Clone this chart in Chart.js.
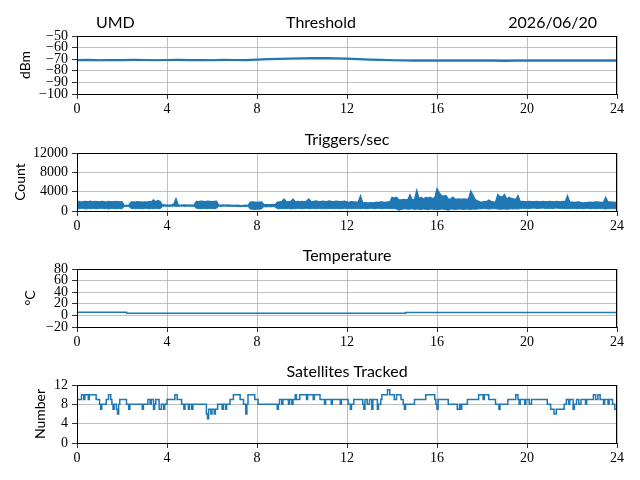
<!DOCTYPE html>
<html>
<head>
<meta charset="utf-8">
<script src="https://cdn.jsdelivr.net/npm/chart.js@4/dist/chart.umd.min.js"></script>
<style>
  html, body { margin: 0; padding: 0; background: #fff; }
  #wrap { position: relative; width: 640px; height: 480px; overflow: hidden; }
  canvas { position: absolute; left: 0; }
</style>
</head>
<body>
<div id="wrap">
  <canvas id="c1" width="640" height="116" style="top:0px"></canvas>
  <canvas id="c2" width="640" height="116" style="top:117px"></canvas>
  <canvas id="c3" width="640" height="116" style="top:233px"></canvas>
  <canvas id="c4" width="640" height="131" style="top:349px"></canvas>
</div>
<script>
// header texts
var siteName = 'UMD';
var dateText = '2026/06/20';
var hourTicks = [0, 4, 8, 12, 16, 20, 24];

// threshold (dBm), one reading every half hour
var thresholdStep = 0.5;
var thresholdDbm = [
  -70.8, -70.6, -70.9, -70.7, -70.8, -70.6, -70.7, -70.9, -70.7, -70.6, -70.8, -70.7, -70.9, -70.6, -70.7, -70.8,
  -70.3, -70.0, -69.7, -69.4, -69.2, -69.0, -69.1, -69.2, -69.5,
  -70.0, -70.4, -70.6, -70.9, -71.1, -71.2, -71.3, -71.2, -71.3, -71.2, -71.3, -71.2,
  -71.3, -71.5, -71.2, -71.2, -71.3, -71.2, -71.2, -71.3, -71.2, -71.2, -71.3, -71.2
];

// triggers per second: highest and lowest reading in each 0.1 h bin (one row per hour)
var triggerStep = 0.1;
var triggerMax = [
  1900, 2000, 1850, 1950, 2000, 1900, 2050, 1900, 2000, 1950,
  1900, 2000, 1950, 1850, 2000, 1950, 1900, 2000, 1950, 1900,
  1950, 1200, 1150, 1200, 1850, 1900, 1850, 1950, 1900, 1850,
  1900, 1850, 1950, 1900, 2300, 1900, 2200, 1950, 1250, 1250,
  1250, 1200, 1250, 1450, 2600, 1250, 1200, 1250, 1250, 1200,
  1250, 1200, 1250, 2000, 1950, 2050, 2000, 1950, 2050, 2000,
  1950, 2000, 2050, 1250, 1200, 1250, 1200, 1250, 1200, 1200,
  1150, 1200, 1150, 1100, 1150, 1200, 1150, 1850, 1900, 1850,
  1800, 1850, 1900, 1400, 1350, 1300, 1350, 1400, 1300, 1850,
  1900, 2000, 2500, 1950, 1900, 2000, 2500, 1900, 2000, 1950,
  2000, 1900, 2050, 2500, 2000, 1950, 2100, 2000, 1900, 2050,
  2000, 1950, 2100, 2000, 1900, 2050, 2000, 1950, 2000, 2050,
  1900, 1850, 1950, 1900, 1850, 1900, 3200, 1700, 1750, 1700,
  1700, 1750, 1700, 1850, 1800, 1900, 1850, 1800, 1900, 1850,
  2850, 2700, 2850, 2350, 2300, 2400, 2350, 2350, 3400, 2350,
  2400, 4300, 2600, 2850, 2500, 2800, 2700, 2850, 2600, 2750,
  4650, 3800, 3200, 3100, 3200, 2500, 2450, 2900, 2500, 2450,
  2500, 2400, 2500, 2450, 2500, 4150, 3300, 2350, 2100, 1900,
  1850, 2000, 1900, 2300, 2000, 1900, 1850, 3450, 3000, 2900,
  3450, 2500, 2850, 2600, 2500, 2350, 3200, 1950, 2000, 1950,
  1900, 2000, 1950, 1900, 2000, 1950, 1900, 2000, 1950, 1900,
  2000, 1950, 1900, 2000, 1950, 1900, 2000, 1950, 3200, 1850,
  1850, 1800, 1850, 1900, 1750, 1700, 1750, 1800, 1850, 1800,
  1850, 1900, 1850, 1800, 1850, 2850, 1850, 1900, 1850, 1800,
  1850
];
var triggerMin = [
  500, 450, 550, 500, 400, 500, 450, 550, 500, 450,
  500, 550, 450, 500, 400, 500, 550, 450, 500, 500,
  450, 950, 950, 950, 550, 500, 450, 550, 500, 450,
  500, 550, 450, 500, 450, 550, 500, 450, 950, 1000,
  1000, 950, 1000, 1000, 1000, 950, 1000, 1000, 950, 1000,
  1000, 950, 1000, 550, 500, 450, 550, 500, 450, 550,
  500, 450, 550, 1000, 950, 1000, 1000, 950, 1000, 950,
  950, 950, 900, 900, 950, 900, 950, 400, 350, 300,
  400, 350, 400, 900, 850, 900, 850, 900, 850, 500,
  450, 500, 550, 450, 500, 400, 500, 450, 550, 500,
  450, 500, 550, 450, 500, 550, 450, 500, 550, 450,
  500, 450, 550, 500, 450, 500, 550, 450, 500, 550,
  500, 550, 450, 500, 550, 500, 450, 550, 500, 450,
  500, 550, 450, 500, 550, 450, 500, 550, 450, 500,
  450, 500, 400, 150, 300, 400, 450, 350, 400, 450,
  300, 400, 350, 300, 400, 350, 300, 400, 350, 300,
  350, 300, 400, 350, 300, 150, 350, 400, 300, 350,
  400, 350, 300, 400, 350, 300, 400, 350, 400, 450,
  450, 500, 450, 400, 450, 500, 450, 400, 350, 400,
  400, 350, 400, 450, 400, 450, 400, 500, 550, 500,
  550, 500, 550, 600, 550, 500, 550, 600, 550, 500,
  550, 500, 550, 600, 550, 500, 550, 500, 450, 500,
  500, 550, 450, 500, 550, 450, 500, 550, 450, 500,
  500, 450, 550, 500, 450, 400, 500, 450, 500, 450,
  500
];

// temperature (degC) at its change points
var tempHours = [0, 2.2, 2.2, 14.6, 14.6, 24];
var tempValues = [5.4, 5.4, 3.5, 3.5, 5.2, 5.2];

// satellites tracked, value holds from each hour until the next one
var satHours = [
  0.0, 0.2, 0.3, 0.35, 0.5, 0.55, 0.85, 1.0, 1.05, 1.1, 1.3, 1.4, 1.5, 1.55, 1.6, 1.65, 1.75, 1.8, 1.85, 1.9,
  2.2, 2.3, 2.35, 2.9, 2.95, 3.15, 3.25, 3.3, 3.4, 3.45, 3.5, 3.65, 3.75, 3.85, 3.9, 4.0, 4.35, 4.45, 4.65, 4.75,
  4.8, 4.95, 5.0, 5.1, 5.15, 5.75, 5.8, 5.85, 5.95, 6.0, 6.1, 6.15, 6.25, 6.45, 6.5, 6.6, 6.65, 6.8, 6.95, 7.25,
  7.4, 7.5, 7.55, 7.6, 7.9, 8.05, 8.9, 8.95, 9.0, 9.1, 9.15, 9.4, 9.45, 9.55, 9.6, 9.7, 9.75, 9.9, 10.2, 10.25,
  10.5, 10.55, 10.8, 11.0, 11.05, 11.3, 11.35, 11.7, 11.75, 12.05, 12.15, 12.2, 12.3, 12.7, 12.75, 12.8, 12.9, 13.0, 13.1, 13.15,
  13.35, 13.4, 13.5, 13.55, 13.8, 13.9, 14.1, 14.2, 14.4, 14.5, 14.55, 14.6, 15.0, 15.5, 15.9, 15.95, 16.0, 16.05, 16.5, 16.9,
  17.0, 17.05, 17.1, 17.35, 17.85, 18.05, 18.1, 18.3, 18.6, 18.75, 18.8, 19.15, 19.5, 19.6, 19.65, 19.7, 19.9, 19.95, 20.1, 20.2,
  20.9, 21.05, 21.2, 21.3, 21.65, 21.75, 21.85, 21.9, 22.05, 22.1, 22.2, 22.3, 22.4, 22.6, 22.65, 22.95, 23.05, 23.15, 23.25, 23.4,
  23.45, 23.6, 23.65, 23.8, 23.9, 24.0
];
var satCounts = [
  9, 10, 9, 10, 9, 10, 9, 8, 7, 8, 9, 10, 9, 8, 7, 8, 7, 6, 8, 9,
  8, 7, 8, 7, 8, 9, 8, 9, 7, 8, 9, 7, 8, 7, 8, 9, 10, 9, 8, 7,
  8, 7, 8, 7, 8, 6, 5, 7, 6, 7, 6, 7, 8, 7, 8, 7, 8, 9, 10, 9,
  8, 6, 8, 10, 9, 8, 7, 8, 9, 8, 9, 8, 9, 8, 9, 10, 9, 10, 9, 10,
  9, 10, 9, 8, 9, 8, 9, 8, 9, 8, 7, 8, 9, 8, 7, 9, 8, 9, 7, 9,
  7, 8, 9, 10, 11, 10, 9, 10, 9, 8, 7, 8, 9, 10, 9, 8, 7, 9, 8, 7,
  8, 7, 8, 9, 10, 9, 10, 9, 8, 7, 8, 9, 10, 9, 8, 9, 8, 9, 8, 9,
  8, 7, 6, 7, 8, 9, 8, 9, 7, 8, 9, 8, 9, 8, 9, 10, 9, 10, 9, 8,
  9, 8, 9, 8, 7, 7
];

var lineColor = '#1f77b4';
var tickFont = { family: '"Liberation Serif", serif', size: 14 };
var labelFont = { family: 'Lato, sans-serif', size: 14 };
var titleFont = { family: 'Lato, sans-serif', size: 16, weight: 'normal' };

Chart.defaults.color = '#000';

function stepped(step, values) {
  return values.map(function(v, i) { return { x: i * step, y: v }; });
}
function paired(xs, ys) {
  return xs.map(function(x, i) { return { x: x, y: ys[i] }; });
}
function minusSign(v) {
  return String(v).replace('-', '\u2212');
}
function lineSet(data, extra) {
  var ds = { data: data, borderColor: lineColor, borderWidth: 1.5, pointRadius: 0, tension: 0, fill: false };
  for (var k in (extra || {})) ds[k] = extra[k];
  return ds;
}

// black box round the plot area
var frame = {
  id: 'frame',
  afterDraw: function(chart) {
    var a = chart.chartArea, c = chart.ctx;
    c.save();
    c.strokeStyle = '#000';
    c.lineWidth = 1;
    c.strokeRect(Math.round(a.left) + 0.5, Math.round(a.top) + 0.5,
      Math.round(a.right - a.left) - 1, Math.round(a.bottom - a.top));
    c.restore();
  }
};

// left / centre / right header line on the top plot
var header = {
  id: 'header',
  afterDraw: function(chart, args, opts) {
    if (!opts.center) return;
    var c = chart.ctx;
    c.save();
    c.font = titleFont.size + 'px ' + titleFont.family;
    c.fillStyle = '#000';
    c.textBaseline = 'middle';
    c.textAlign = 'left';
    c.fillText(opts.left, 96, 22.5);
    c.textAlign = 'center';
    c.fillText(opts.center, 321, 22.5);
    c.textAlign = 'right';
    c.fillText(opts.right, 597, 22.5);
    c.restore();
  }
};

function makeChart(id, cfg) {
  var ctx = document.getElementById(id).getContext('2d');
  return new Chart(ctx, {
    type: 'line',
    data: { datasets: cfg.datasets },
    options: {
      responsive: false,
      animation: false,
      layout: { padding: { left: 0, right: 23, top: cfg.header ? 36 : 0, bottom: cfg.padBottom || 0 } },
      plugins: {
        legend: { display: false },
        tooltip: { enabled: false },
        title: {
          display: !cfg.header,
          text: cfg.title,
          fullSize: false,
          font: titleFont,
          color: '#000',
          padding: { top: 13, bottom: 3.8 }
        },
        header: cfg.header || {}
      },
      scales: {
        x: {
          type: 'linear',
          min: 0,
          max: 24,
          afterFit: function(s) { s.height = 22; },
          afterBuildTicks: function(s) { s.ticks = hourTicks.map(function(v) { return { value: v }; }); },
          ticks: { font: tickFont, padding: 2, autoSkip: false, maxRotation: 0 },
          grid: { color: '#b0b0b0', lineWidth: 0.8, tickColor: '#000', tickLength: 5 },
          border: { display: false }
        },
        y: {
          min: cfg.yMin,
          max: cfg.yMax,
          afterFit: function(s) { s.width = 77; },
          ticks: { stepSize: cfg.yStep, font: tickFont, padding: 4, autoSkip: false, callback: minusSign },
          grid: { color: '#b0b0b0', lineWidth: 0.8, tickColor: '#000', tickLength: 5 },
          border: { display: false },
          title: { display: true, text: cfg.yLabel, font: labelFont, padding: { top: cfg.labelPad, bottom: 0 } }
        }
      }
    },
    plugins: [frame, header]
  });
}

makeChart('c1', {
  datasets: [lineSet(stepped(thresholdStep, thresholdDbm), { borderWidth: 2.2 })],
  header: { left: siteName, center: 'Threshold', right: dateText },
  yMin: -100, yMax: -50, yStep: 10, yLabel: 'dBm', labelPad: 17
});
makeChart('c2', {
  datasets: [
    lineSet(stepped(triggerStep, triggerMin), { borderWidth: 1 }),
    lineSet(stepped(triggerStep, triggerMax), { borderWidth: 1.2, fill: '-1', backgroundColor: lineColor })
  ],
  title: 'Triggers/sec',
  yMin: 0, yMax: 12000, yStep: 4000, yLabel: 'Count', labelPad: 12
});
makeChart('c3', {
  datasets: [lineSet(paired(tempHours, tempValues))],
  title: 'Temperature',
  yMin: -20, yMax: 80, yStep: 20, yLabel: '\u00B0C', labelPad: 22
});
makeChart('c4', {
  datasets: [lineSet(paired(satHours, satCounts), { stepped: true })],
  title: 'Satellites Tracked',
  yMin: 0, yMax: 12, yStep: 4, yLabel: 'Number', labelPad: 32, padBottom: 15
});
</script>
</body>
</html>
